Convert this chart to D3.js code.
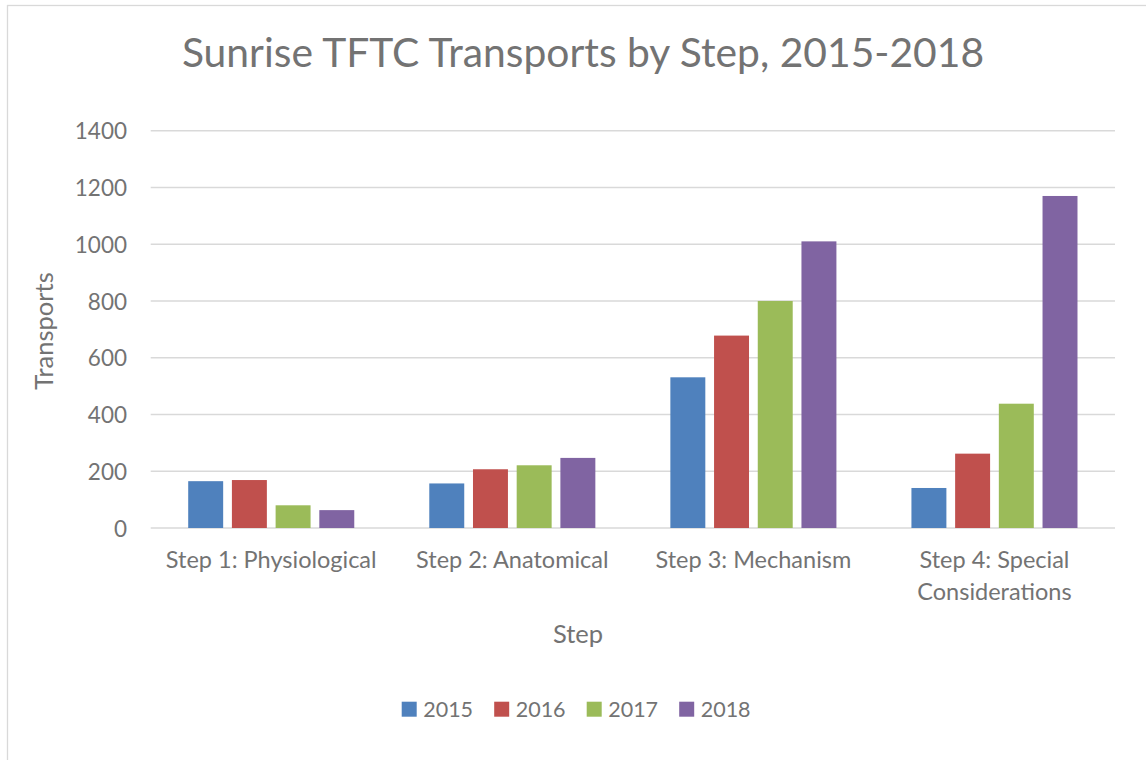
<!DOCTYPE html>
<html><head><meta charset="utf-8">
<script src="https://cdn.jsdelivr.net/npm/d3@7"></script>
<style>body{margin:0;background:#fff}svg{display:block}text{font-family:Lato,"Open Sans",sans-serif;fill:#737373}</style>
</head><body>
<svg id="c" width="1146" height="760"></svg>
<script>
const categories = [["Step 1: Physiological"],["Step 2: Anatomical"],["Step 3: Mechanism"],["Step 4: Special","Considerations"]];
const series = ["2015","2016","2017","2018"];
const colors = ["#4F81BD","#C0504D","#9BBB59","#8064A2"];
const v2015 = [165,157,531,141];
const v2016 = [169,207,678,262];
const v2017 = [80,221,800,438];
const v2018 = [63,247,1010,1170];
const yTicks = [0,200,400,600,800,1000,1200,1400];
const values = [v2015,v2016,v2017,v2018];

const svg = d3.select("#c");
svg.append("rect").attr("x",7.5).attr("y",5.5).attr("width",1160).attr("height",800)
  .attr("fill","#fff").attr("stroke","#d9d9d9").attr("stroke-width",1.3);

const L=150.7,R=1115,T=130.7,B=528;
const x = d3.scaleBand().domain(d3.range(4)).range([L,R]).padding(0);
const inner = d3.scaleBand().domain(series).range([0,174.8]).paddingInner(0.2).paddingOuter(0.1);
const y = d3.scaleLinear().domain([0,1400]).range([B,T]);

const g = svg.append("g");
g.selectAll("line.grid").data(yTicks).join("line").attr("class","grid")
  .attr("x1",L).attr("x2",R).attr("y1",d=>y(d)).attr("y2",d=>y(d))
  .attr("stroke","#d9d9d9").attr("stroke-width",1.4);

const yAxis = d3.axisLeft(y).tickValues(yTicks).tickFormat(d3.format("d")).tickSize(0).tickPadding(0);
const ya = svg.append("g").attr("transform",`translate(127,0)`).call(yAxis);
ya.select(".domain").remove();
ya.selectAll("text").style("font-size","22.5px").attr("fill","#737373").attr("dy","0.36em").style("font-family","Lato");

const off = (x.bandwidth()-174.8)/2;
series.forEach((s,si)=>{
  g.selectAll("rect.s"+si).data(values[si]).join("rect")
   .attr("x",(d,i)=>x(i)+off+inner(s)).attr("width",inner.bandwidth())
   .attr("y",d=>y(d)).attr("height",d=>B-y(d)).attr("fill",colors[si]);
});

const xa = svg.append("g");
categories.forEach((lines,i)=>{
  const t = xa.append("text").attr("text-anchor","middle").style("font-size","23.5px")
    .attr("x",x(i)+x.bandwidth()/2).attr("y",568);
  lines.forEach((ln,j)=>t.append("tspan").attr("x",x(i)+x.bandwidth()/2).attr("dy",j?32:0).text(ln));
});

svg.append("text").attr("x",583).attr("y",67).attr("text-anchor","middle").style("font-size","40.8px")
  .text("Sunrise TFTC Transports by Step, 2015-2018");
svg.append("text").attr("x",578).attr("y",643).attr("text-anchor","middle").style("font-size","25.5px").text("Step");
svg.append("text").attr("transform","translate(53,331) rotate(-90)").attr("text-anchor","middle").style("font-size","25.5px").text("Transports");

const lg = svg.append("g");
series.forEach((s,i)=>{
  const lx = 401.7 + i*92.5;
  lg.append("rect").attr("x",lx).attr("y",701.7).attr("width",15).attr("height",15).attr("fill",colors[i]);
  lg.append("text").attr("x",lx+21.5).attr("y",716.7).style("font-size","21.5px").text(s);
});
</script>
</body></html>
